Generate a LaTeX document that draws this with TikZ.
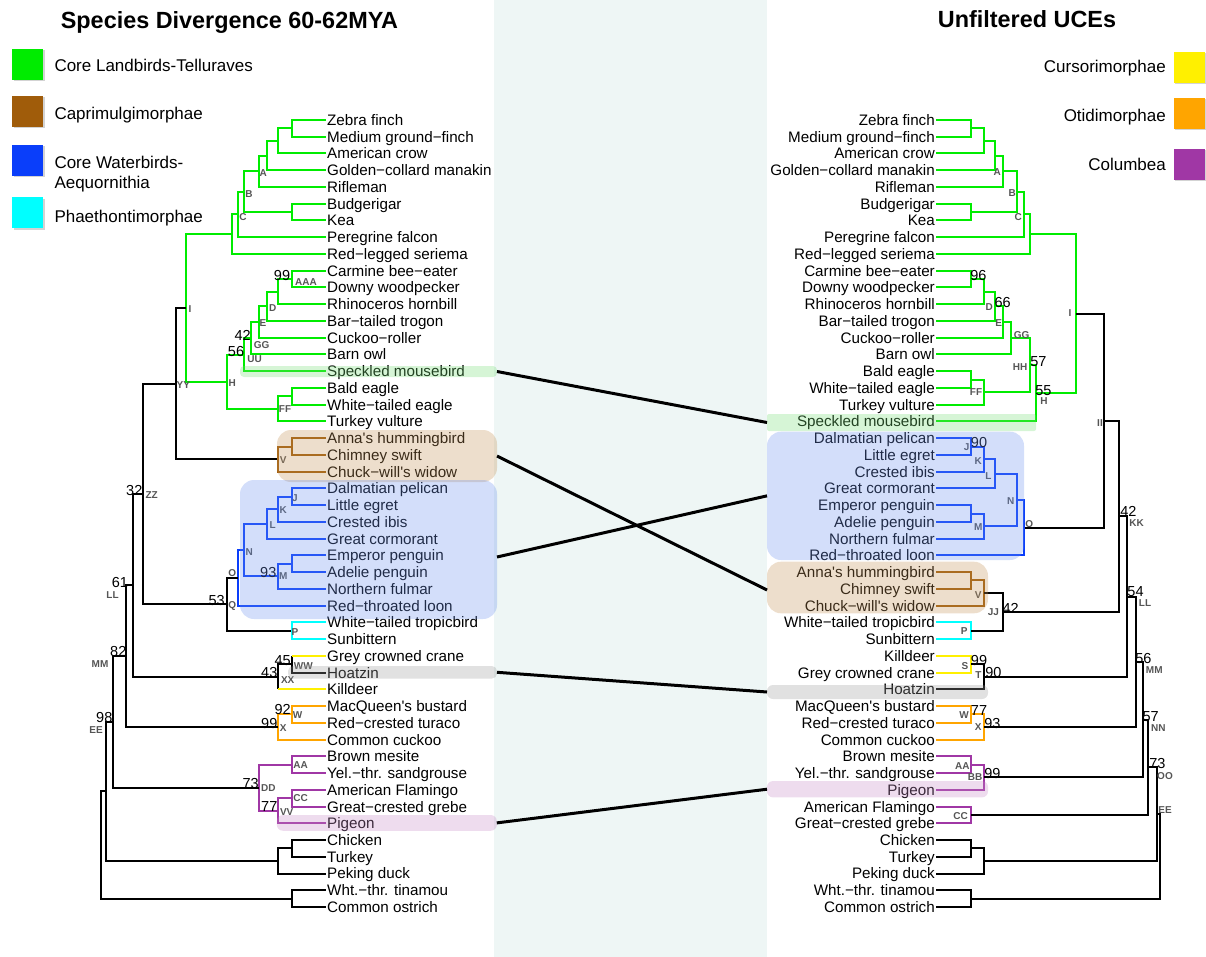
\documentclass[tikz,border=0pt]{standalone}
\usepackage{fontspec}
\setmainfont{Liberation Sans}
\usetikzlibrary{calc,shadows}
\definecolor{cgreen}{RGB}{0,236,0}
\definecolor{cbrown}{RGB}{160,92,10}
\definecolor{cblue}{RGB}{10,62,250}
\definecolor{ccyan}{RGB}{0,255,255}
\definecolor{cyellow}{RGB}{255,240,0}
\definecolor{corange}{RGB}{255,165,0}
\definecolor{cpurple}{RGB}{160,55,165}
\definecolor{labgray}{RGB}{85,85,85}
\definecolor{stripbg}{RGB}{238,246,245}
\definecolor{ovgreen}{RGB}{118,222,118}
\definecolor{ovbrown}{RGB}{195,145,85}
\definecolor{ovblue}{RGB}{108,145,238}
\definecolor{ovgray}{RGB}{155,155,155}
\definecolor{ovpurple}{RGB}{198,138,198}
\newcommand\leaffont{\fontsize{15.2}{18}\selectfont}
\newcommand\bsfont{\fontsize{14.5}{17}\selectfont}
\newcommand\nlfont{\fontsize{10}{12}\selectfont\bfseries}
\newcommand\legfont{\fontsize{17}{20}\selectfont}
\newcommand\titfont{\fontsize{23.4}{28}\selectfont\bfseries}
\tikzset{
  leafL/.style={anchor=west, inner sep=1pt, font=\leaffont, text height=10.9pt, text depth=0pt},
  leafR/.style={anchor=east, inner sep=1pt, font=\leaffont, text height=10.9pt, text depth=0pt},
  nl/.style={font=\nlfont, text=labgray, inner sep=0pt, text height=7.2pt, text depth=0pt},
  bs/.style={font=\bsfont, inner sep=0pt, text height=10.4pt, text depth=0pt},
  br/.style={line width=2pt},
  gE/.style={br, draw=cgreen},
  kE/.style={br, draw=black},
  nE/.style={br, draw=cbrown},
  bE/.style={br, draw=cblue},
  cE/.style={br, draw=ccyan},
  yE/.style={br, draw=cyellow},
  oE/.style={br, draw=corange},
  pE/.style={br, draw=cpurple},
  ovl/.style={draw=none, fill opacity=0.3, inner sep=0pt, outer sep=0pt},
  conn/.style={line width=3pt, draw=black},
  legsq/.style={minimum size=31pt, inner sep=0pt, draw=none, drop shadow={shadow xshift=1.2pt, shadow yshift=-1.2pt, opacity=0.35}},
  legtxt/.style={font=\legfont, inner sep=0pt, text height=12.2pt, text depth=0pt},
  ttl/.style={font=\titfont, inner sep=0pt, text height=16.8pt, text depth=0pt}
}
\begin{document}
\begin{tikzpicture}[x=1pt, y=-1pt]
\useasboundingbox (0,0) rectangle (1206,957);
\fill[stripbg] (494,0) rectangle (767,957);

% titles
\node[ttl] (title1) at (229.5,20) {Species Divergence 60-62MYA};
\node[ttl] (title2) at (1027,19.5) {Unfiltered UCEs};

% legends
\node[legsq, fill=cgreen] (sqG) at (27.8,64.7) {};
\node[legsq, fill=cbrown] (sqN) at (27.8,111.2) {};
\node[legsq, fill=cblue] (sqB) at (27.8,160.8) {};
\node[legsq, fill=ccyan] (sqC) at (27.8,213) {};
\node[legtxt, anchor=west] (tG) at (54.3,65.7) {Core Landbirds-Telluraves};
\node[legtxt, anchor=west] (tN) at (54.3,113.3) {Caprimulgimorphae};
\node[legtxt, anchor=west] (tB1) at (54.3,162.7) {Core Waterbirds-};
\node[legtxt, anchor=west] (tB2) at (54.3,182.7) {Aequornithia};
\node[legtxt, anchor=west] (tC) at (54.3,216) {Phaethontimorphae};
\node[legsq, fill=cyellow] (sqY) at (1189.5,67.2) {};
\node[legsq, fill=corange] (sqO) at (1189.5,113.7) {};
\node[legsq, fill=cpurple] (sqP) at (1189.5,164.2) {};
\node[legtxt, anchor=east] (tY) at (1166,66.7) {Cursorimorphae};
\node[legtxt, anchor=east] (tO) at (1166,115) {Otidimorphae};
\node[legtxt, anchor=east] (tP) at (1166,164.3) {Columbea};

% left leaves
\foreach \t [count=\i from 0] in {Zebra finch, Medium ground−finch, American crow, Golden−collard manakin, Rifleman, Budgerigar, Kea, Peregrine falcon, Red−legged seriema, Carmine bee−eater, Downy woodpecker, Rhinoceros hornbill, Bar−tailed trogon, Cuckoo−roller, Barn owl, Speckled mousebird, Bald eagle, White−tailed eagle, Turkey vulture, Anna\textquotesingle s hummingbird, Chimney swift, Chuck−will\textquotesingle s widow, Dalmatian pelican, Little egret, Crested ibis, Great cormorant, Emperor penguin, Adelie penguin, Northern fulmar, Red−throated loon, White−tailed tropicbird, Sunbittern, Grey crowned crane, Hoatzin, Killdeer, MacQueen\textquotesingle s bustard, Red−crested turaco, Common cuckoo, Brown mesite, Yel.−thr. sandgrouse, American Flamingo, Great−crested grebe, Pigeon, Chicken, Turkey, Peking duck, Wht.−thr. tinamou, Common ostrich}
  \node[leafL] (L\i) at (326,{120+16.745*\i}) {\t};

% right leaves
\foreach \t [count=\i from 0] in {Zebra finch, Medium ground−finch, American crow, Golden−collard manakin, Rifleman, Budgerigar, Kea, Peregrine falcon, Red−legged seriema, Carmine bee−eater, Downy woodpecker, Rhinoceros hornbill, Bar−tailed trogon, Cuckoo−roller, Barn owl, Bald eagle, White−tailed eagle, Turkey vulture, Speckled mousebird, Dalmatian pelican, Little egret, Crested ibis, Great cormorant, Emperor penguin, Adelie penguin, Northern fulmar, Red−throated loon, Anna\textquotesingle s hummingbird, Chimney swift, Chuck−will\textquotesingle s widow, White−tailed tropicbird, Sunbittern, Killdeer, Grey crowned crane, Hoatzin, MacQueen\textquotesingle s bustard, Red−crested turaco, Common cuckoo, Brown mesite, Yel.−thr. sandgrouse, Pigeon, American Flamingo, Great−crested grebe, Chicken, Turkey, Peking duck, Wht.−thr. tinamou, Common ostrich}
  \node[leafR] (R\i) at (936,{120+16.745*\i}) {\t};

% left internal nodes
\coordinate (lZM) at (292,128.37);
\coordinate (l2) at (278,140.93);
\coordinate (l3) at (267,155.58);
\coordinate (lA) at (259,171.28);
\coordinate (lBK) at (292,212.10);
\coordinate (lB) at (244,191.69);
\coordinate (lC) at (238,214.45);
\coordinate (lS1) at (232,234.21);
\coordinate (lAAA) at (292,279.08);
\coordinate (l4) at (278,291.64);
\coordinate (lD) at (267,306.29);
\coordinate (lE) at (259,321.99);
\coordinate (lGG) at (251,338.21);
\coordinate (lUU) at (244,354.69);
\coordinate (lBW) at (292,396.29);
\coordinate (lFF) at (278,408.85);
\coordinate (lH) at (227,381.77);
\coordinate (lI) at (186,307.99);
\coordinate (lAC) at (292,446.53);
\coordinate (lV) at (278,459.09);
\coordinate (lYY) at (175.7,383.54);
\coordinate (lJ) at (292,496.76);
\coordinate (lK) at (278,509.32);
\coordinate (lL) at (267,523.97);
\coordinate (lEA) at (292,563.74);
\coordinate (lM) at (278,576.30);
\coordinate (lN) at (244,550.14);
\coordinate (lO) at (237.7,577.87);
\coordinate (lP) at (292,630.72);
\coordinate (lQ) at (226.7,604.30);
\coordinate (lZZ) at (143.3,493.92);
\coordinate (lWW) at (292,664.21);
\coordinate (lXX) at (278,676.77);
\coordinate (lLL) at (133.3,585.35);
\coordinate (lW) at (292,714.45);
\coordinate (lX) at (278,727.01);
\coordinate (lMM) at (125.7,656.18);
\coordinate (lAA) at (292,764.68);
\coordinate (lCC) at (292,798.17);
\coordinate (lVV) at (278,810.73);
\coordinate (lDD) at (259,787.71);
\coordinate (lEE) at (113.3,721.95);
\coordinate (lCT) at (292,848.41);
\coordinate (lG) at (278,860.97);
\coordinate (lR1) at (105.7,791.46);
\coordinate (lPal) at (292,898.64);
\coordinate (lRoot) at (101,845.05);

% left edges
\draw[gE] (lZM) |- (L0.west) (lZM) |- (L1.west) (l2) |- (lZM) (l2) |- (L2.west)
  (l3) |- (l2) (l3) |- (L3.west) (lA) |- (l3) (lA) |- (L4.west)
  (lBK) |- (L5.west) (lBK) |- (L6.west) (lB) |- (lA) (lB) |- (lBK)
  (lC) |- (lB) (lC) |- (L7.west) (lS1) |- (lC) (lS1) |- (L8.west)
  (lAAA) |- (L9.west) (lAAA) |- (L10.west) (l4) |- (lAAA) (l4) |- (L11.west)
  (lD) |- (l4) (lD) |- (L12.west) (lE) |- (lD) (lE) |- (L13.west)
  (lGG) |- (lE) (lGG) |- (L14.west) (lUU) |- (lGG) (lUU) |- (L15.west)
  (lBW) |- (L16.west) (lBW) |- (L17.west) (lFF) |- (lBW) (lFF) |- (L18.west)
  (lH) |- (lUU) (lH) |- (lFF) (lI) |- (lS1) (lI) |- (lH);
\draw[kE] (lYY) |- (lI) (lYY) |- (lV);
\draw[nE] (lAC) |- (L19.west) (lAC) |- (L20.west) (lV) |- (lAC) (lV) |- (L21.west);
\draw[bE] (lJ) |- (L22.west) (lJ) |- (L23.west) (lK) |- (lJ) (lK) |- (L24.west)
  (lL) |- (lK) (lL) |- (L25.west) (lEA) |- (L26.west) (lEA) |- (L27.west)
  (lM) |- (lEA) (lM) |- (L28.west) (lN) |- (lL) (lN) |- (lM)
  (lO) |- (lN) (lO) |- (L29.west);
\draw[kE] (lQ) |- (lO) (lQ) |- (lP);
\draw[cE] (lP) |- (L30.west) (lP) |- (L31.west);
\draw[kE] (lZZ) |- (lYY) (lZZ) |- (lQ);
\draw[kE] (lWW) -- (lWW |- L32.west) (lWW) |- (L33.west)
  (lXX) |- (lWW) (lXX) -- (lXX |- L34.west);
\draw[yE] (lWW |- L32.west) -- (L32.west) (lXX |- L34.west) -- (L34.west);
\draw[kE] (lLL) |- (lZZ) (lLL) |- (lXX);
\draw[oE] (lW) |- (L35.west) (lW) |- (L36.west) (lX) |- (lW) (lX) |- (L37.west);
\draw[kE] (lMM) |- (lLL) (lMM) |- (lX);
\draw[pE] (lAA) |- (L38.west) (lAA) |- (L39.west) (lCC) |- (L40.west) (lCC) |- (L41.west)
  (lVV) |- (lCC) (lVV) |- (L42.west) (lDD) |- (lAA) (lDD) |- (lVV);
\draw[kE] (lEE) |- (lMM) (lEE) |- (lDD) (lCT) |- (L43.west) (lCT) |- (L44.west)
  (lG) |- (lCT) (lG) |- (L45.west) (lR1) |- (lEE) (lR1) |- (lG)
  (lPal) |- (L46.west) (lPal) |- (L47.west) (lRoot) |- (lR1) (lRoot) |- (lPal);

% right internal nodes
\coordinate (rZM) at (971,128.37);
\coordinate (r2) at (984,140.93);
\coordinate (r3) at (995,155.58);
\coordinate (rA) at (1002.7,171.28);
\coordinate (rBK) at (971,212.10);
\coordinate (rB) at (1017.3,191.69);
\coordinate (rC) at (1024.3,214.45);
\coordinate (rS1) at (1030,234.21);
\coordinate (rCD) at (971,279.08);
\coordinate (rCDR) at (984,291.64);
\coordinate (rD) at (995,306.29);
\coordinate (rE) at (1002.7,321.99);
\coordinate (rGG) at (1010.7,338.21);
\coordinate (rBW) at (971,379.55);
\coordinate (rFF) at (984,392.11);
\coordinate (rHH) at (1030,365.16);
\coordinate (rH) at (1036,393.29);
\coordinate (rI) at (1076,313.75);
\coordinate (rJ) at (971,446.53);
\coordinate (rK) at (984,459.09);
\coordinate (rL) at (995,473.74);
\coordinate (rEA) at (971,513.51);
\coordinate (rM) at (984,526.07);
\coordinate (rN) at (1017.3,499.91);
\coordinate (rO) at (1024.3,527.64);
\coordinate (rII) at (1104.3,420.70);
\coordinate (rAC) at (971,580.49);
\coordinate (rV) at (984,593.05);
\coordinate (rP) at (971,630.72);
\coordinate (rJJ) at (1003.3,611.89);
\coordinate (rKK) at (1119.3,516.30);
\coordinate (rS) at (971,664.21);
\coordinate (rT) at (984,676.77);
\coordinate (rLL) at (1126.7,596.54);
\coordinate (rW) at (971,714.45);
\coordinate (rX) at (984,727.01);
\coordinate (rMM) at (1136,661.78);
\coordinate (rAA) at (971,764.68);
\coordinate (rBB) at (984,777.24);
\coordinate (rNN) at (1143.3,719.51);
\coordinate (rCC) at (971,814.92);
\coordinate (rOO) at (1148,767.22);
\coordinate (rCT) at (971,848.41);
\coordinate (rG) at (984,860.97);
\coordinate (rEE) at (1156.7,814.10);
\coordinate (rPal) at (971,898.64);
\coordinate (rRoot) at (1160,856.37);

% right edges
\draw[gE] (rZM) |- (R0.east) (rZM) |- (R1.east) (r2) |- (rZM) (r2) |- (R2.east)
  (r3) |- (r2) (r3) |- (R3.east) (rA) |- (r3) (rA) |- (R4.east)
  (rBK) |- (R5.east) (rBK) |- (R6.east) (rB) |- (rA) (rB) |- (rBK)
  (rC) |- (rB) (rC) |- (R7.east) (rS1) |- (rC) (rS1) |- (R8.east)
  (rCD) |- (R9.east) (rCD) |- (R10.east) (rCDR) |- (rCD) (rCDR) |- (R11.east)
  (rD) |- (rCDR) (rD) |- (R12.east) (rE) |- (rD) (rE) |- (R13.east)
  (rGG) |- (rE) (rGG) |- (R14.east) (rBW) |- (R15.east) (rBW) |- (R16.east)
  (rFF) |- (rBW) (rFF) |- (R17.east) (rHH) |- (rGG) (rHH) |- (rFF)
  (rH) |- (rHH) (rH) |- (R18.east) (rI) |- (rS1) (rI) |- (rH);
\draw[kE] (rII) |- (rI) (rII) |- (rO);
\draw[bE] (rJ) |- (R19.east) (rJ) |- (R20.east) (rK) |- (rJ) (rK) |- (R21.east)
  (rL) |- (rK) (rL) |- (R22.east) (rEA) |- (R23.east) (rEA) |- (R24.east)
  (rM) |- (rEA) (rM) |- (R25.east) (rN) |- (rL) (rN) |- (rM)
  (rO) |- (rN) (rO) |- (R26.east);
\draw[nE] (rAC) |- (R27.east) (rAC) |- (R28.east) (rV) |- (rAC) (rV) |- (R29.east);
\draw[cE] (rP) |- (R30.east) (rP) |- (R31.east);
\draw[kE] (rJJ) |- (rV) (rJJ) |- (rP) (rKK) |- (rII) (rKK) |- (rJJ);
\draw[yE] (rS) |- (R32.east) (rS) |- (R33.east);
\draw[kE] (rT) |- (rS) (rT) |- (R34.east) (rLL) |- (rKK) (rLL) |- (rT);
\draw[oE] (rW) |- (R35.east) (rW) |- (R36.east) (rX) |- (rW) (rX) |- (R37.east);
\draw[kE] (rMM) |- (rLL) (rMM) |- (rX);
\draw[pE] (rAA) |- (R38.east) (rAA) |- (R39.east) (rBB) |- (rAA) (rBB) |- (R40.east)
  (rCC) |- (R41.east) (rCC) |- (R42.east);
\draw[kE] (rNN) |- (rMM) (rNN) |- (rBB) (rOO) |- (rNN) (rOO) |- (rCC)
  (rCT) |- (R43.east) (rCT) |- (R44.east) (rG) |- (rCT) (rG) |- (R45.east)
  (rEE) |- (rOO) (rEE) |- (rG) (rPal) |- (R46.east) (rPal) |- (R47.east)
  (rRoot) |- (rEE) (rRoot) |- (rPal);

% left node labels
\node[nl] (nlA) at (263.3,173.3) {A};
\node[nl] (nlB) at (249,194) {B};
\node[nl] (nlC) at (243,217) {C};
\node[nl] (nlAAA) at (306,282) {AAA};
\node[nl] (nlD) at (272.7,308.3) {D};
\node[nl] (nlE) at (263,322.7) {E};
\node[nl] (nlGG) at (261.7,345) {GG};
\node[nl] (nlUU) at (254.7,359) {UU};
\node[nl] (nlI) at (190,309.3) {I};
\node[nl] (nlYY) at (183.3,385) {YY};
\node[nl] (nlH) at (232.3,383.3) {H};
\node[nl] (nlFF) at (285,409) {FF};
\node[nl] (nlV) at (283.3,460) {V};
\node[nl] (nlZZ) at (151.7,495) {ZZ};
\node[nl] (nlJ) at (295,498.3) {J};
\node[nl] (nlK) at (283.3,510) {K};
\node[nl] (nlL) at (272.7,525) {L};
\node[nl] (nlN) at (249.3,552.3) {N};
\node[nl] (nlM) at (283.3,576) {M};
\node[nl] (nlO) at (232.3,573.3) {O};
\node[nl] (nlQ) at (232.3,605) {Q};
\node[nl] (nlLL) at (112.5,594.5) {LL};
\node[nl] (nlP) at (295,632.3) {P};
\node[nl] (nlMM) at (100,664.3) {MM};
\node[nl] (nlWW) at (303.3,665.7) {WW};
\node[nl] (nlXX) at (287.7,680) {XX};
\node[nl] (nlEE) at (96,730) {EE};
\node[nl] (nlW) at (297.7,715) {W};
\node[nl] (nlX) at (283.3,727.7) {X};
\node[nl] (nlAA) at (300.7,765) {AA};
\node[nl] (nlDD) at (268.3,788.3) {DD};
\node[nl] (nlCC) at (300.7,798.3) {CC};
\node[nl] (nlVV) at (286.7,811.7) {VV};
% left bootstrap values
\node[bs] (bl1) at (282,275) {99};
\node[bs] (bl2) at (242.7,335) {42};
\node[bs] (bl3) at (236,351) {56};
\node[bs] (bl4) at (134.3,490) {32};
\node[bs] (bl5) at (268.3,572.7) {93};
\node[bs] (bl6) at (216.7,600) {53};
\node[bs] (bl7) at (120,582.3) {61};
\node[bs] (bl8) at (118.3,651.7) {82};
\node[bs] (bl9) at (282.7,660) {45};
\node[bs] (bl10) at (269.3,672.7) {43};
\node[bs] (bl11) at (104.3,717.5) {98};
\node[bs] (bl12) at (282.7,709.3) {92};
\node[bs] (bl13) at (269.3,723.3) {99};
\node[bs] (bl14) at (250.7,783.3) {73};
\node[bs] (bl15) at (269.3,806.7) {77};

% right node labels
\node[nl] (nrA) at (997.3,171.7) {A};
\node[nl] (nrB) at (1012.3,193.3) {B};
\node[nl] (nrC) at (1018.3,216.7) {C};
\node[nl] (nrD) at (989.3,306.7) {D};
\node[nl] (nrE) at (998.7,323.3) {E};
\node[nl] (nrGG) at (1021.7,335) {GG};
\node[nl] (nrHH) at (1020,366.7) {HH};
\node[nl] (nrFF) at (976,392.3) {FF};
\node[nl] (nrH) at (1044,400.7) {H};
\node[nl] (nrI) at (1070,313.3) {I};
\node[nl] (nrII) at (1100,423.3) {II};
\node[nl] (nrJ) at (966.7,447.3) {J};
\node[nl] (nrK) at (978.3,460.7) {K};
\node[nl] (nrL) at (988.3,475.7) {L};
\node[nl] (nrN) at (1010.7,500.7) {N};
\node[nl] (nrM) at (978.3,526.7) {M};
\node[nl] (nrO) at (1029.3,524) {O};
\node[nl] (nrKK) at (1136.7,523.3) {KK};
\node[nl] (nrV) at (978.3,595) {V};
\node[nl] (nrJJ) at (993.3,612.3) {JJ};
\node[nl] (nrLL) at (1145,603) {LL};
\node[nl] (nrP) at (964.3,631) {P};
\node[nl] (nrS) at (965,665.7) {S};
\node[nl] (nrT) at (978.3,675) {T};
\node[nl] (nrMM) at (1154.3,670) {MM};
\node[nl] (nrW) at (964,715) {W};
\node[nl] (nrX) at (978.3,726.7) {X};
\node[nl] (nrNN) at (1158.3,727.7) {NN};
\node[nl] (nrAA) at (962.3,765.7) {AA};
\node[nl] (nrBB) at (975,777.3) {BB};
\node[nl] (nrOO) at (1165,775.7) {OO};
\node[nl] (nrCC) at (960.7,816) {CC};
\node[nl] (nrEE) at (1165,810) {EE};
% right bootstrap values
\node[bs] (br1) at (978.3,275) {96};
\node[bs] (br2) at (1002.7,302.7) {66};
\node[bs] (br3) at (1038.3,361.7) {57};
\node[bs] (br4) at (1043.3,390) {55};
\node[bs] (br5) at (979,442.7) {90};
\node[bs] (br6) at (1128.3,511.7) {42};
\node[bs] (br7) at (1010.7,608.3) {42};
\node[bs] (br8) at (1135.5,591) {54};
\node[bs] (br9) at (979,660) {99};
\node[bs] (br10) at (993.3,672.7) {90};
\node[bs] (br11) at (1143.3,658.3) {56};
\node[bs] (br12) at (979,710) {77};
\node[bs] (br13) at (992.3,723.3) {93};
\node[bs] (br14) at (1150.7,716.7) {57};
\node[bs] (br15) at (992.3,773.3) {99};
\node[bs] (br16) at (1157.3,763.3) {73};

% translucent highlight overlays
\node[ovl, fill=ovgreen, rounded corners=4pt, minimum width=257pt, minimum height=11pt] (lspk) at (368.5,371.5) {};
\node[ovl, fill=ovbrown, rounded corners=14pt, minimum width=220pt, minimum height=52pt] (lbrown) at (387,456) {};
\node[ovl, fill=ovblue, rounded corners=14pt, minimum width=257pt, minimum height=139pt] (lblue) at (368.5,549.5) {};
\node[ovl, fill=ovgray, rounded corners=5pt, minimum width=209pt, minimum height=12.5pt] (lhoa) at (392.5,672.3) {};
\node[ovl, fill=ovpurple, rounded corners=6pt, minimum width=220pt, minimum height=15.7pt] (lpig) at (386.8,822.9) {};
\node[ovl, fill=ovgreen, rounded corners=2pt, minimum width=269pt, minimum height=17pt] (rspk) at (901.5,422.5) {};
\node[ovl, fill=ovblue, rounded corners=14pt, minimum width=257pt, minimum height=128.3pt] (rblue) at (895.5,495.85) {};
\node[ovl, fill=ovbrown, rounded corners=14pt, minimum width=221pt, minimum height=51.6pt] (rbrown) at (877.5,587.5) {};
\node[ovl, fill=ovgray, rounded corners=6pt, minimum width=221pt, minimum height=14pt] (rhoa) at (877.5,692) {};
\node[ovl, fill=ovpurple, rounded corners=6pt, minimum width=221pt, minimum height=16.3pt] (rpig) at (877.5,789.2) {};

% connectors between the two trees
\draw[conn] (lspk.east) -- (rspk.west);
\draw[conn] (lbrown.east) -- ($(rbrown.west)+(0,2.5)$);
\draw[conn] ($(lblue.east)+(0,7.5)$) -- (rblue.west);
\draw[conn] (lhoa.east) -- (rhoa.west);
\draw[conn] (lpig.east) -- (rpig.west);
\end{tikzpicture}
\end{document}
